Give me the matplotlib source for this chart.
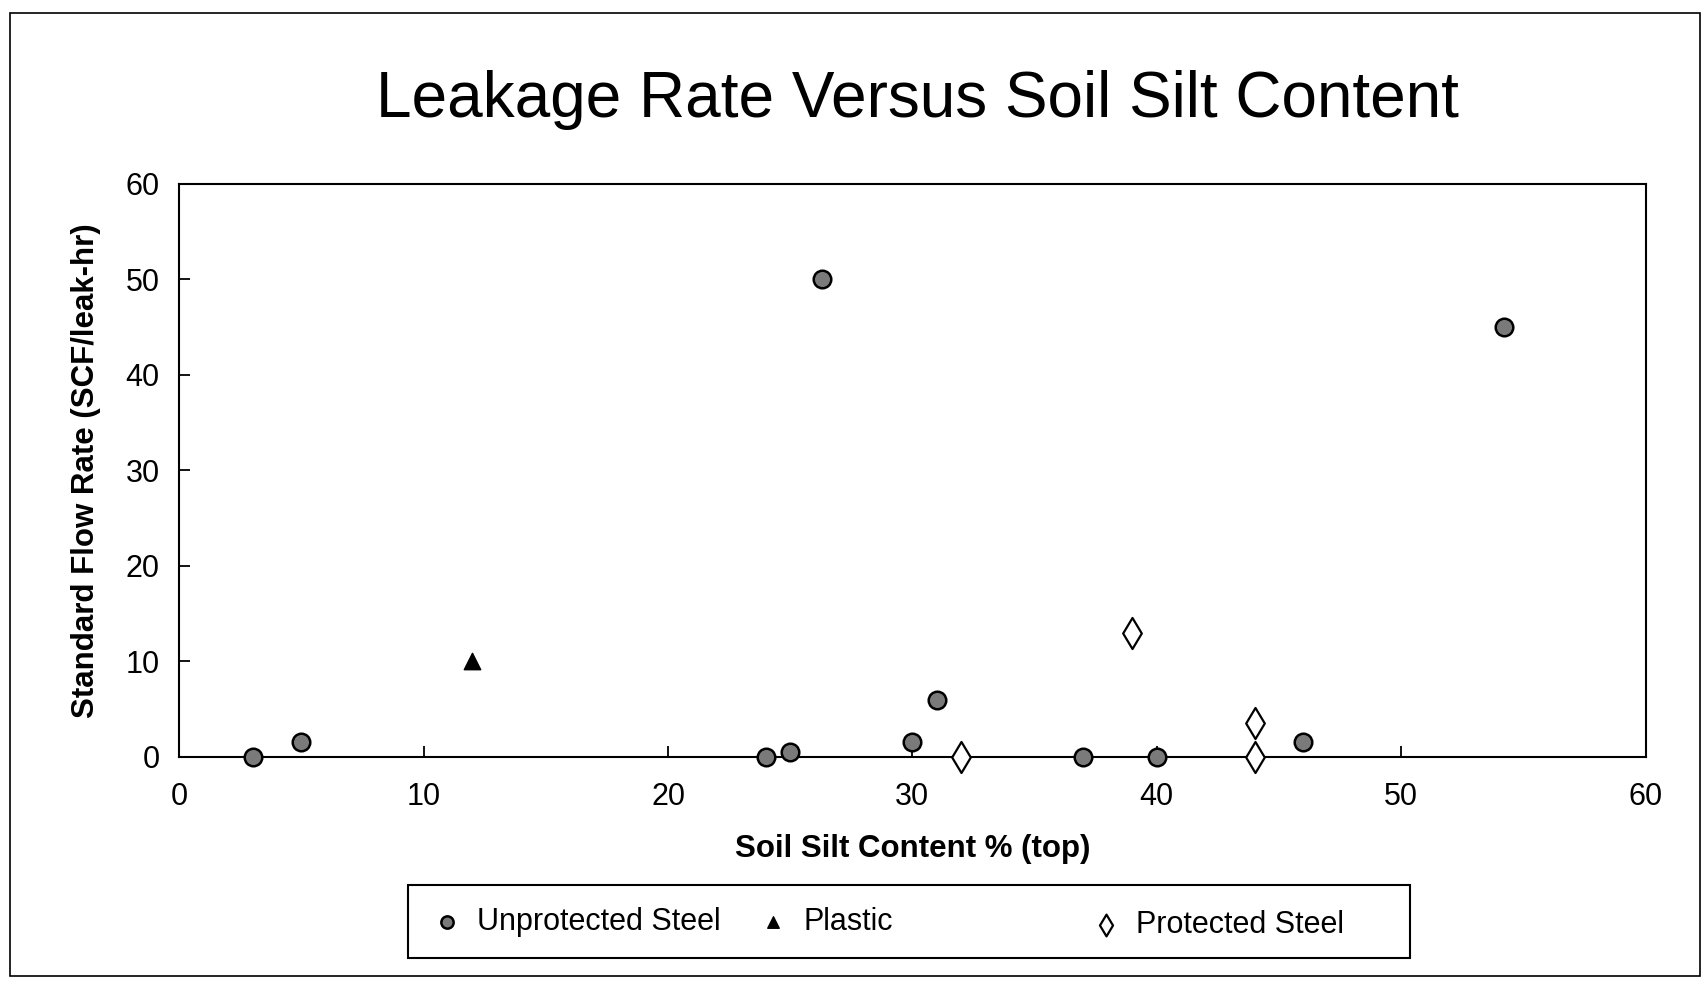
import matplotlib
matplotlib.use('Agg')
import matplotlib.pyplot as plt
from matplotlib.patches import Rectangle

plt.rcParams['font.family'] = ['Liberation Sans', 'DejaVu Sans']

# data
unprot_x = [3, 5, 24, 25, 26.3, 30, 31, 37, 40, 46, 54.2]
unprot_y = [0, 1.6, 0, 0.5, 50, 1.5, 6, 0, 0, 1.5, 45]
plastic_x = [12]
plastic_y = [10]
prot_x = [32, 39, 44, 44]
prot_y = [0, 13, 3.5, 0]

fig = plt.figure(figsize=(17.07, 9.88), dpi=100)
ax = fig.add_axes([0.105, 0.234, 0.859, 0.58])

h1 = ax.scatter(unprot_x, unprot_y, s=160, marker='o', facecolor='#7a7a7a',
                edgecolor='black', linewidth=1.8, label='Unprotected Steel',
                zorder=3, clip_on=False)
h2 = ax.scatter(plastic_x, plastic_y, s=140, marker='^', facecolor='black',
                edgecolor='black', label='Plastic', zorder=3, clip_on=False)
h3 = ax.scatter(prot_x, prot_y, s=250, marker='d', facecolor='white',
                edgecolor='black', linewidth=1.6, label='Protected Steel',
                zorder=3, clip_on=False)

ax.set_xlim(0, 60)
ax.set_ylim(0, 60)
ax.set_xticks(range(0, 61, 10))
ax.set_yticks(range(0, 61, 10))
ax.tick_params(direction='in', length=8, labelsize=22, width=1.3)
ax.tick_params(axis='x', pad=18)
ax.tick_params(axis='y', pad=14)
for s in ax.spines.values():
    s.set_linewidth(1.5)

ax.set_xlabel('Soil Silt Content % (top)', fontsize=22.5, fontweight='bold', labelpad=16)
ax.set_ylabel('Standard Flow Rate (SCF/leak-hr)', fontsize=22.5, fontweight='bold', labelpad=18)
fig.text(0.5375, 0.899, 'Leakage Rate Versus Soil Silt Content', fontsize=46,
         ha='center', va='center')

# legend: two pieces inside one drawn box, to keep the uneven spacing
opts = dict(fontsize=22, frameon=False, handlelength=1.2, handletextpad=0.4,
            markerscale=0.7, borderpad=0, borderaxespad=0)
leg1 = fig.legend(handles=[h1, h2], loc='center left', bbox_to_anchor=(0.251, 0.067),
                  ncol=2, columnspacing=1.1, **opts)
leg2 = fig.legend(handles=[h3], loc='center left', bbox_to_anchor=(0.637, 0.064), **opts)
fig.patches.append(Rectangle((0.239, 0.030), 0.587, 0.074, transform=fig.transFigure,
                             fill=False, edgecolor='black', linewidth=1.5))

fig.patches.append(Rectangle((0.006, 0.012), 0.99, 0.975, transform=fig.transFigure,
                             fill=False, edgecolor='black', linewidth=1.2))

fig.savefig('out.png', dpi=100)
